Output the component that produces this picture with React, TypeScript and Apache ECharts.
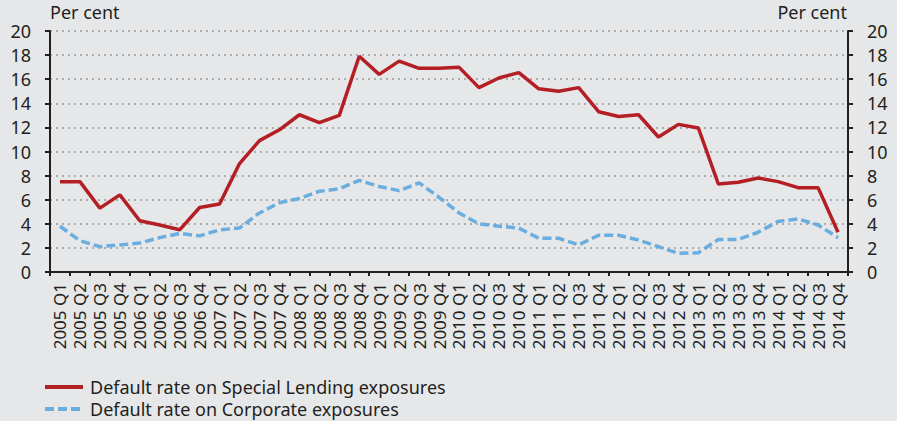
import React, { useEffect, useRef } from "react";
import * as echarts from "echarts";

const categories: string[] = [];
const years = ["2005", "2006", "2007", "2008", "2009", "2010", "2011", "2012", "2013", "2014"];
const quarters = ["Q1", "Q2", "Q3", "Q4"];
for (const y of years) for (const q of quarters) categories.push(`${y} ${q}`);

const specialLending = [
  7.5, 7.5, 5.3, 6.4,
  4.25, 3.9, 3.5, 5.35,
  5.65, 9.0, 10.9, 11.8,
  13.05, 12.4, 13.0, 17.9,
  16.4, 17.5, 16.9, 16.9,
  17.0, 15.3, 16.1, 16.55,
  15.2, 15.0, 15.3, 13.3,
  12.9, 13.05, 11.2, 12.25,
  11.95, 7.3, 7.45, 7.8,
  7.5, 7.0, 7.0, 3.3,
];

const corporate = [
  3.8, 2.6, 2.1, 2.25,
  2.4, 2.85, 3.2, 3.0,
  3.5, 3.65, 4.9, 5.75,
  6.1, 6.7, 6.9, 7.6,
  7.1, 6.75, 7.4, 6.2,
  4.9, 4.0, 3.8, 3.65,
  2.8, 2.8, 2.25, 3.05,
  3.05, 2.65, 2.1, 1.55,
  1.6, 2.7, 2.7, 3.3,
  4.2, 4.4, 3.9, 2.85,
];

const seriesNames = ["Default rate on Special Lending exposures", "Default rate on Corporate exposures"];
const unitLabel = "Per cent";

const FONT = "'Noto Sans', sans-serif";
const TEXT = "#231f20";
const BG = "#e6e7e9";
const RED = "#b31f24";
const BLUE = "#6aaee0";

function makeYAxis(position: "left" | "right") {
  return {
    type: "value",
    position,
    min: 0,
    max: 20,
    interval: 2,
    axisLine: { show: true, lineStyle: { color: TEXT, width: 2 } },
    axisTick: { show: true, inside: false, length: 5, lineStyle: { color: TEXT, width: 2 } },
    axisLabel: {
      color: TEXT,
      fontFamily: FONT,
      fontSize: 18,
      margin: 19,
    },
    splitLine: {
      show: position === "left",
      lineStyle: { color: "#9a9a9a", type: [2, 4], width: 1.5 },
    },
  };
}

function makeLegend(name: string, top: number) {
  return {
    show: true,
    orient: "horizontal",
    left: 43,
    top,
    padding: 0,
    itemWidth: 38,
    itemHeight: 12,
    itemGap: 5,
    itemStyle: { opacity: 0 },
    lineStyle: { width: 4 },
    textStyle: {
      color: TEXT,
      fontFamily: FONT,
      fontSize: 18,
      lineHeight: 20,
      padding: [0, 0, 0, 2],
    },
    data: [name],
  };
}

export default function App() {
  const ref = useRef<HTMLDivElement>(null);
  useEffect(() => {
    if (!ref.current) return;
    const chart = echarts.init(ref.current, null, { renderer: "svg" });
    chart.setOption({
      animation: false,
      backgroundColor: BG,
      textStyle: { fontFamily: FONT },
      grid: { left: 50, right: 49, top: 31, bottom: 149, containLabel: false },
      graphic: [
        {
          type: "text",
          x: 50,
          y: 3,
          style: { text: unitLabel, fill: TEXT, font: `18px ${FONT}` },
        },
        {
          type: "text",
          x: 847,
          y: 3,
          style: { text: unitLabel, fill: TEXT, font: `18px ${FONT}`, align: "right" },
        },
      ],
      legend: [makeLegend(seriesNames[0], 377), makeLegend(seriesNames[1], 399)],
      xAxis: {
        type: "category",
        data: categories,
        boundaryGap: true,
        axisLine: { show: true, lineStyle: { color: TEXT, width: 2 } },
        axisTick: { show: true, interval: 0, length: 4, lineStyle: { color: TEXT, width: 2 } },
        axisLabel: {
          interval: 0,
          rotate: 90,
          color: TEXT,
          fontFamily: FONT,
          fontSize: 17,
          margin: 11,
        },
        splitLine: { show: false },
      },
      yAxis: [makeYAxis("left"), makeYAxis("right")],
      series: [
        {
          name: seriesNames[0],
          type: "line",
          data: specialLending,
          showSymbol: false,
          symbol: "none",
          lineStyle: { color: RED, width: 3.5 },
          itemStyle: { color: RED },
        },
        {
          name: seriesNames[1],
          type: "line",
          data: corporate,
          showSymbol: false,
          symbol: "none",
          lineStyle: { color: BLUE, width: 3.5, type: [9, 4] },
          itemStyle: { color: BLUE },
        },
      ],
    });
    return () => chart.dispose();
  }, []);
  return (
    <div style={{ position: "fixed", left: 0, top: 0, width: 897, height: 421, background: BG }}>
      <div ref={ref} style={{ width: 897, height: 421 }} />
    </div>
  );
}
